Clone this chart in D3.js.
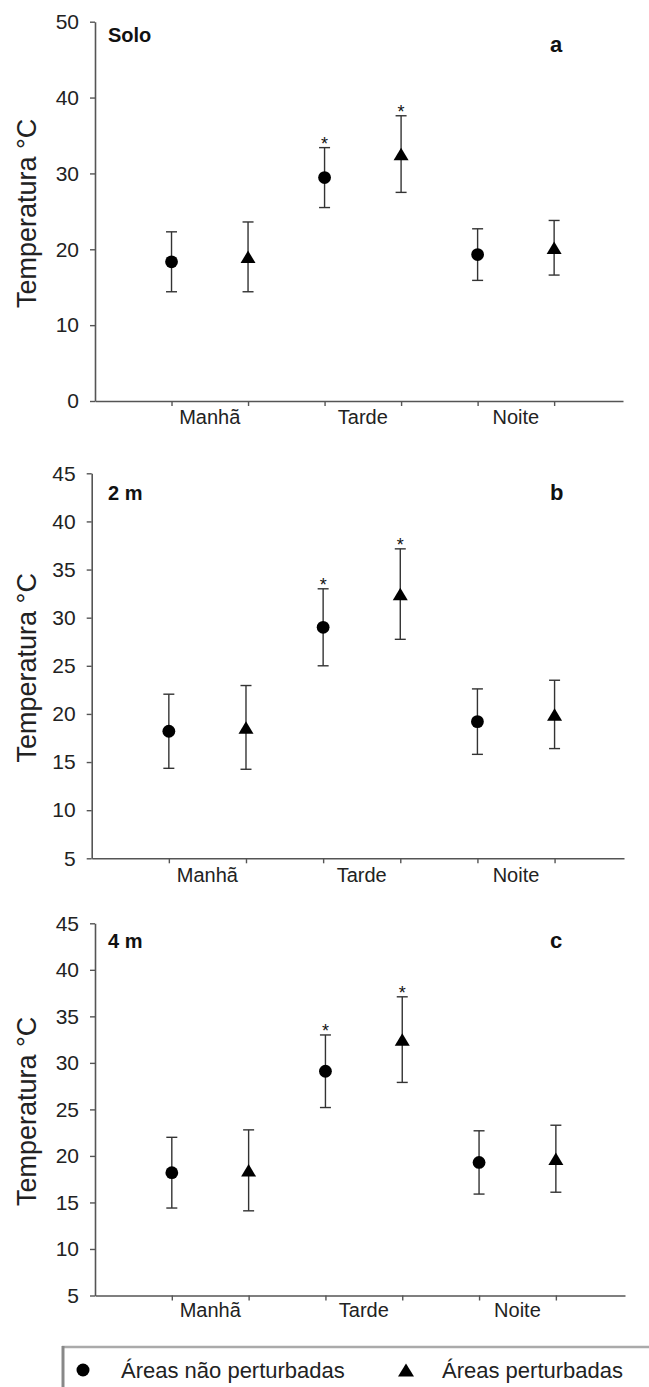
<!DOCTYPE html>
<html>
<head>
<meta charset="utf-8">
<script src="https://cdn.jsdelivr.net/npm/d3@7"></script>
<style>
  body { margin: 0; background: #fff; }
  svg { display: block; font-family: "Liberation Sans", Arial, sans-serif; }
</style>
</head>
<body>
<div id="chart"></div>
<script>
// Periods on the x axis
const periods = ["Manhã", "Tarde", "Noite"];
const seriesNames = ["Áreas não perturbadas", "Áreas perturbadas"];

// Means and SD (°C)
const soloNaoMean = [18.35, 29.45, 19.3];
const soloNaoSd   = [3.95, 3.95, 3.4];
const soloPertMean = [19.0, 32.55, 20.2];
const soloPertSd   = [4.6, 5.05, 3.6];

const m2NaoMean = [18.2, 29.0, 19.2];
const m2NaoSd   = [3.85, 4.0, 3.4];
const m2PertMean = [18.6, 32.45, 19.95];
const m2PertSd   = [4.35, 4.7, 3.55];

const m4NaoMean = [18.2, 29.1, 19.3];
const m4NaoSd   = [3.8, 3.9, 3.4];
const m4PertMean = [18.45, 32.5, 19.7];
const m4PertSd   = [4.35, 4.6, 3.6];

// significant differences (asterisk), per period
const signif = [false, true, false];

const yTicksSolo = [0, 10, 20, 30, 40, 50];
const yTicksAir = [5, 10, 15, 20, 25, 30, 35, 40, 45];

const panels = [
  { title: "Solo", letter: "a", nao: [soloNaoMean, soloNaoSd], pert: [soloPertMean, soloPertSd],
    yDomain: [0, 50], yTicks: yTicksSolo, left: 95, right: 623, top: 21.7, bottom: 401, titleY: 42, letterY: 52, catDy: 23 },
  { title: "2 m", letter: "b", nao: [m2NaoMean, m2NaoSd], pert: [m2PertMean, m2PertSd],
    yDomain: [5, 45], yTicks: yTicksAir, left: 91.7, right: 624, top: 473.3, bottom: 858.3, titleY: 500, letterY: 500, catDy: 24 },
  { title: "4 m", letter: "c", nao: [m4NaoMean, m4NaoSd], pert: [m4PertMean, m4PertSd],
    yDomain: [5, 45], yTicks: yTicksAir, left: 95, right: 625, top: 923.3, bottom: 1295.5, titleY: 948, letterY: 948, catDy: 21 }
];

const W = 649, H = 1387;
const axisColor = "#555";
const barColor = "#333";

const svg = d3.select("#chart").append("svg")
    .attr("width", W)
    .attr("height", H);

svg.append("rect").attr("width", W).attr("height", H).attr("fill", "#fff");

const triangle = (w, h) => `M0,${-h / 2}L${w / 2},${h / 2}L${-w / 2},${h / 2}Z`;

panels.forEach(p => {
    const x = d3.scaleLinear().domain([0, 6.9]).range([p.left, p.right]);
    const y = d3.scaleLinear().domain(p.yDomain).range([p.bottom, p.top]);
    const g = svg.append("g");

    // x axis
    const xAxis = g.append("g")
        .attr("transform", `translate(0,${p.bottom})`)
        .call(d3.axisBottom(x).tickValues([1, 2, 3, 4, 5, 6]).tickSize(5).tickSizeOuter(0).tickFormat(""));
    xAxis.select(".domain").attr("stroke", axisColor).attr("stroke-width", 1.6);
    xAxis.selectAll(".tick line").attr("stroke", axisColor).attr("stroke-width", 1.4);

    // y axis
    const yAxis = g.append("g")
        .attr("transform", `translate(${p.left},0)`)
        .call(d3.axisLeft(y).tickValues(p.yTicks).tickSize(5).tickSizeOuter(0));
    yAxis.select(".domain").attr("stroke", axisColor).attr("stroke-width", 1.6);
    yAxis.selectAll(".tick line").attr("stroke", axisColor).attr("stroke-width", 1.4);
    yAxis.selectAll(".tick text")
        .attr("x", -16)
        .attr("font-size", 21)
        .attr("font-family", "Liberation Sans, Arial, sans-serif")
        .attr("fill", "#222");

    // category labels
    g.selectAll(".cat")
        .data(periods)
        .join("text")
        .attr("x", (d, i) => x(1.5 + 2 * i))
        .attr("y", p.bottom + p.catDy)
        .attr("text-anchor", "middle")
        .attr("font-size", 20)
        .attr("fill", "#222")
        .text(d => d);

    // y axis title
    g.append("text")
        .attr("transform", `translate(36,${(p.top + p.bottom) / 2 + 2}) rotate(-90)`)
        .attr("text-anchor", "middle")
        .attr("font-size", 27)
        .attr("fill", "#222")
        .text("Temperatura °C");

    // panel labels
    g.append("text").attr("x", 108).attr("y", p.titleY)
        .attr("font-size", 20).attr("font-weight", "bold").attr("fill", "#111").text(p.title);
    g.append("text").attr("x", 550).attr("y", p.letterY)
        .attr("font-size", 22).attr("font-weight", "bold").attr("fill", "#111").text(p.letter);

    // points: circles at odd ticks, triangles at even ticks
    const pts = [];
    periods.forEach((per, i) => {
        pts.push({ xv: 1 + 2 * i, mean: p.nao[0][i], sd: p.nao[1][i], shape: "circle", sig: signif[i] });
        pts.push({ xv: 2 + 2 * i, mean: p.pert[0][i], sd: p.pert[1][i], shape: "triangle", sig: signif[i] });
    });

    const bars = g.selectAll(".err").data(pts).join("g")
        .attr("stroke", barColor).attr("stroke-width", 1.4);
    bars.append("line")
        .attr("x1", d => x(d.xv)).attr("x2", d => x(d.xv))
        .attr("y1", d => y(d.mean + d.sd)).attr("y2", d => y(d.mean - d.sd));
    bars.append("line")
        .attr("x1", d => x(d.xv) - 5.5).attr("x2", d => x(d.xv) + 5.5)
        .attr("y1", d => y(d.mean + d.sd)).attr("y2", d => y(d.mean + d.sd));
    bars.append("line")
        .attr("x1", d => x(d.xv) - 5.5).attr("x2", d => x(d.xv) + 5.5)
        .attr("y1", d => y(d.mean - d.sd)).attr("y2", d => y(d.mean - d.sd));

    g.selectAll(".pt").data(pts).join("path")
        .attr("transform", d => `translate(${x(d.xv)},${y(d.mean)})`)
        .attr("d", d => d.shape === "circle" ? d3.arc()({ innerRadius: 0, outerRadius: 6.4, startAngle: 0, endAngle: 2 * Math.PI }) : triangle(15, 12.5))
        .attr("fill", "#000");

    g.selectAll(".star").data(pts.filter(d => d.sig)).join("text")
        .attr("x", d => x(d.xv))
        .attr("y", d => y(d.mean + d.sd) + 2)
        .attr("text-anchor", "middle")
        .attr("font-size", 18)
        .attr("fill", "#111")
        .text("*");
});

// legend
const lg = svg.append("g");
lg.append("line").attr("x1", 62).attr("x2", W).attr("y1", 1347).attr("y2", 1347)
    .attr("stroke", "#aaa").attr("stroke-width", 2.5);
lg.append("line").attr("x1", 63).attr("x2", 63).attr("y1", 1346).attr("y2", H)
    .attr("stroke", "#888").attr("stroke-width", 3);
lg.append("circle").attr("cx", 83).attr("cy", 1370).attr("r", 6.5).attr("fill", "#000");
lg.append("path").attr("transform", "translate(406,1370)").attr("d", triangle(16, 13)).attr("fill", "#000");
lg.selectAll(".lt").data(seriesNames).join("text")
    .attr("x", (d, i) => i === 0 ? 121 : 442)
    .attr("y", 1377.5)
    .attr("font-size", 22)
    .attr("fill", "#222")
    .text(d => d);
</script>
</body>
</html>
